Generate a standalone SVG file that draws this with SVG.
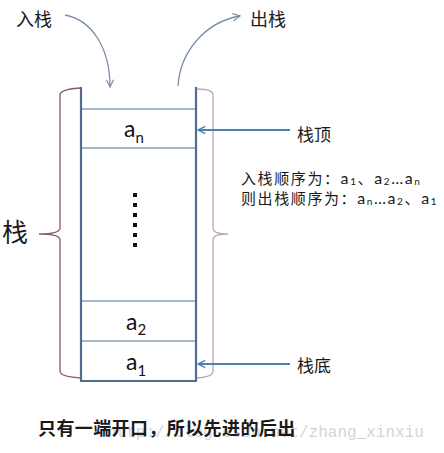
<svg xmlns="http://www.w3.org/2000/svg" width="444" height="453" viewBox="0 0 444 453">
<defs>
<style>
.cjk{font-family:"Noto Sans CJK SC","Noto Sans",sans-serif;fill:#1a1a1a}
.lbl{font-size:17px}
.el{font-family:Lato,"Open Sans",sans-serif;font-size:23px;fill:#111}
.sub{font-size:15px}
.box{stroke:#4f6d90;fill:none}
.ptr{stroke:#4f7fb5;stroke-width:2;fill:none}
.curve{stroke:#7a8ea8;stroke-width:1.3;fill:none}
.ord{font-size:15px;letter-spacing:1.6px}
.lat{font-family:Lato,"Liberation Sans",sans-serif;font-size:16px}
.os{font-family:Lato,"Liberation Sans",sans-serif;font-size:10px}
</style>
<marker id="ahb" viewBox="0 0 10 10" refX="9" refY="5" markerWidth="9" markerHeight="9" orient="auto" markerUnits="userSpaceOnUse">
<path d="M1,1 L9,5 L1,9" fill="none" stroke="#4f7fb5" stroke-width="1.6"/>
</marker>
<marker id="ahg" viewBox="0 0 10 10" refX="9" refY="5" markerWidth="9" markerHeight="9" orient="auto" markerUnits="userSpaceOnUse">
<path d="M1,1 L9,5 L1,9" fill="none" stroke="#7a8ea8" stroke-width="1.3"/>
</marker>
</defs>
<rect width="444" height="453" fill="#fff"/>

<g id="watermark">
<text x="107" y="437" font-family="'Liberation Mono',monospace" font-size="16" fill="#d4d4d4">http://blog.csdn.net/zhang_xinxiu</text>
</g>

<g id="stack">
<line class="box" x1="81" y1="87" x2="81" y2="382" stroke-width="2.2"/>
<line class="box" x1="196" y1="87" x2="196" y2="381" stroke-width="2.2"/>
<line class="box" x1="80" y1="381" x2="197" y2="381" stroke-width="2.2"/>
<line class="box" x1="81" y1="109" x2="196" y2="109" stroke-width="1.2"/>
<line class="box" x1="81" y1="148" x2="196" y2="148" stroke-width="1.2"/>
<line class="box" x1="81" y1="301" x2="196" y2="301" stroke-width="1.2"/>
<line class="box" x1="81" y1="341" x2="196" y2="341" stroke-width="1.2"/>
</g>

<g id="cell-an">
<text class="el" x="124" y="137">a<tspan class="sub" dy="6">n</tspan></text>
</g>
<g id="dots" fill="#111">
<rect x="133" y="193" width="4" height="4"/>
<rect x="133" y="203" width="4" height="4"/>
<rect x="133" y="213" width="4" height="4"/>
<rect x="133" y="223" width="4" height="4"/>
<rect x="133" y="233" width="4" height="4"/>
<rect x="133" y="243" width="4" height="4"/>
</g>
<g id="cell-a2">
<text class="el" x="126" y="330">a<tspan class="sub" dy="5">2</tspan></text>
</g>
<g id="cell-a1">
<text class="el" x="126" y="370">a<tspan class="sub" dy="6">1</tspan></text>
</g>

<g id="brace-left">
<path d="M82,88 Q60,89 60,95 L60,228 Q60,234 39,234 Q60,234 60,240 L60,371 Q60,377 82,378" fill="none" stroke="#8b5a60" stroke-width="1.3"/>
<text class="cjk" x="2" y="242" font-size="26">栈</text>
</g>
<g id="brace-right">
<path d="M197,89 Q213,89 213,95 L213,228 Q213,234 228,234 Q213,234 213,240 L213,371 Q213,377 197,378" fill="none" stroke="#c4a4ac" stroke-width="1.3"/>
</g>

<g id="connectors">
<path class="curve" d="M65,15 C92,20 110,48 110,87" marker-end="url(#ahg)"/>
<path class="curve" d="M178,86 C180,52 205,22 240,16" marker-end="url(#ahg)"/>
<line class="ptr" x1="290" y1="130" x2="198" y2="130" marker-end="url(#ahb)"/>
<line class="ptr" x1="290" y1="364" x2="198" y2="364" marker-end="url(#ahb)" stroke="#6a7f95"/>
</g>

<g id="label-push">
<text class="cjk" x="16" y="26" font-size="18">入栈</text>
</g>
<g id="label-pop">
<text class="cjk" x="250" y="26" font-size="18">出栈</text>
</g>
<g id="label-top">
<text class="cjk lbl" x="297" y="141">栈顶</text>
</g>
<g id="label-bottom">
<text class="cjk lbl" x="297" y="372">栈底</text>
</g>
<g id="order-text">
<text class="cjk ord" x="241" y="184">入栈顺序为：<tspan class="lat">a</tspan><tspan class="os" dy="1">1</tspan><tspan dy="-1">、</tspan><tspan class="lat">a</tspan><tspan class="os" dy="1">2</tspan><tspan class="lat" dy="-1">…a</tspan><tspan class="os" dy="1">n</tspan></text>
<text class="cjk ord" x="241" y="204">则出栈顺序为：<tspan class="lat">a</tspan><tspan class="os" dy="1">n</tspan><tspan class="lat" dy="-1">…a</tspan><tspan class="os" dy="1">2</tspan><tspan dy="-1">、</tspan><tspan class="lat">a</tspan><tspan class="os" dy="1">1</tspan></text>
</g>
<g id="caption">
<text class="cjk" x="38" y="435" font-size="18" font-weight="bold" letter-spacing="0.4" fill="#000">只有一端开口，所以先进的后出</text>
</g>
</svg>
